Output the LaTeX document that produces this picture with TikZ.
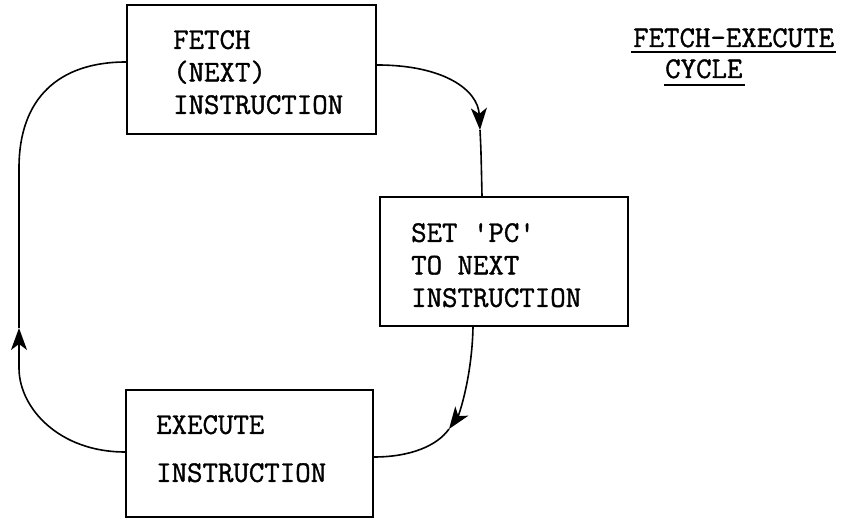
\documentclass[tikz,border=0pt]{standalone}
\usepackage{fontspec}
\newfontfamily\typewriter{Latin Modern Mono}[FakeBold=1.2]
\usetikzlibrary{arrows.meta}

\tikzset{
  box/.style={draw, line width=2pt, rectangle, inner sep=0pt},
  txt/.style={inner sep=0pt, anchor=north west, align=left, font=\typewriter\fontsize{30}{32.5}\selectfont},
  conn/.style={line width=1.6pt},
  tipped/.style={conn, -{Stealth[length=22pt,width=16pt,inset=6pt]}},
  uline/.style={line width=2pt}
}

\begin{document}
\begin{tikzpicture}[x=1pt,y=1pt]
  \useasboundingbox (0,0) rectangle (846,518);

  % the three boxes of the cycle
  \node[box, minimum width=249pt, minimum height=129pt] (fetch) at (251.5,448.5) {};
  \node[box, minimum width=248pt, minimum height=129pt] (set) at (504,256.5) {};
  \node[box, minimum width=247pt, minimum height=127pt] (execute) at (249.5,64.5) {};

  % box texts
  \node[txt] (fetchtxt) at (173,488) {FETCH\\(NEXT)\\INSTRUCTION};
  \node[txt] (settxt) at (411,295) {SET 'PC'\\TO NEXT\\INSTRUCTION};
  \node[txt, font=\typewriter\fontsize{30}{48}\selectfont] (exectxt) at (156,103) {EXECUTE\\INSTRUCTION};

  % title
  \node[inner sep=0pt, anchor=base west, font=\typewriter\fontsize{30}{32}\selectfont] (title1) at (633,471) {FETCH-EXECUTE};
  \node[inner sep=0pt, anchor=base west, font=\typewriter\fontsize{30}{32}\selectfont] (title2) at (665,440) {CYCLE};
  \draw[uline] ([xshift=-2pt,yshift=-5pt]title1.base west) -- ([xshift=2pt,yshift=-5pt]title1.base east);
  \draw[uline] ([xshift=-1pt,yshift=-7pt]title2.base west) -- ([xshift=2pt,yshift=-7pt]title2.base east);

  % arrow tip positions along the loop
  \coordinate (tipA) at (480,388);
  \coordinate (tipB) at (449,89);
  \coordinate (tipC) at (19,190);
  \coordinate (lowbend) at (19,150);
  \coordinate (highbend) at (19,350);

  % fetch -> set
  \draw[tipped] ([yshift=4.5pt]fetch.east) .. controls +(67,0) and +(-2,40) .. (tipA);
  \draw[conn] (tipA) .. controls +(1,-20) .. ([xshift=-22pt]set.north);

  % set -> execute
  \draw[tipped] ([xshift=-31pt]set.south) .. controls +(-1,-50) and +(10,14) .. (tipB);
  \draw[conn] (tipB) .. controls +(-12,-17) and +(36,0) .. ([yshift=-3.5pt]execute.east);

  % execute -> fetch
  \draw[tipped] ([yshift=1.5pt]execute.west) .. controls +(-66,0) and +(0,-40) .. (lowbend) -- (tipC);
  \draw[conn] (tipC) -- (highbend) .. controls +(0,70) and +(-67,0) .. ([yshift=7.5pt]fetch.west);
\end{tikzpicture}
\end{document}
